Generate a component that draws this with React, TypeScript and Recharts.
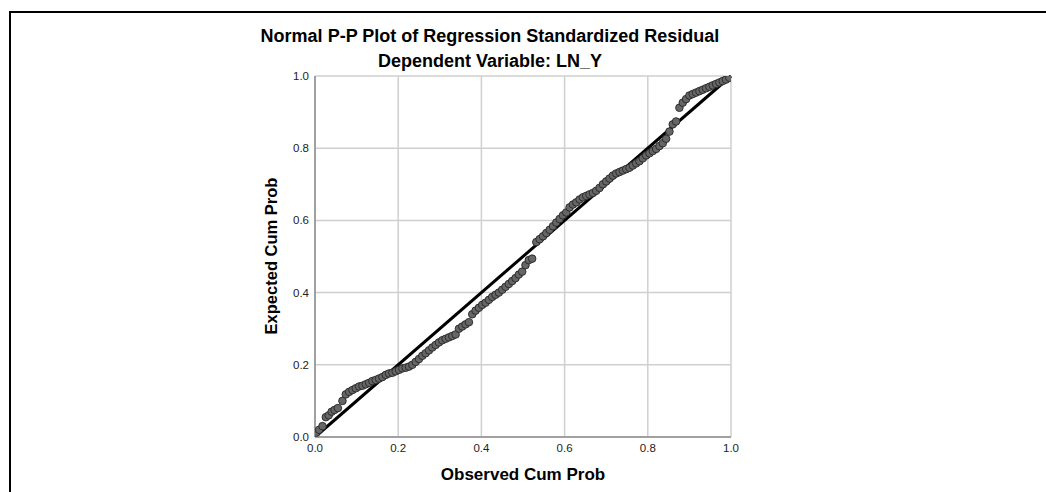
import { ScatterChart, Scatter, XAxis, YAxis, CartesianGrid, ReferenceLine } from 'recharts';

// observed cumulative probability (x) and expected cumulative probability (y)
const observed = [
  0.003, 0.01, 0.018, 0.026, 0.033, 0.04, 0.047, 0.055, 0.066, 0.074, 0.082, 0.09, 0.098, 0.106, 0.114,
  0.122, 0.13, 0.138, 0.146, 0.154, 0.162, 0.17, 0.178, 0.186, 0.194, 0.202, 0.21, 0.218, 0.226, 0.234,
  0.242, 0.25, 0.258, 0.266, 0.274, 0.282, 0.29, 0.298, 0.306, 0.314, 0.322, 0.33, 0.338, 0.346, 0.354,
  0.362, 0.37, 0.378, 0.386, 0.394, 0.402, 0.41, 0.418, 0.426, 0.434, 0.442, 0.45, 0.458, 0.466, 0.474,
  0.482, 0.49, 0.498, 0.506, 0.514, 0.522, 0.532, 0.54, 0.548, 0.556, 0.564, 0.572, 0.58, 0.588, 0.596,
  0.604, 0.612, 0.62, 0.628, 0.636, 0.644, 0.652, 0.66, 0.668, 0.676, 0.684, 0.692, 0.7, 0.708, 0.716,
  0.724, 0.732, 0.74, 0.748, 0.756, 0.764, 0.772, 0.78, 0.788, 0.796, 0.804, 0.812, 0.82, 0.828, 0.836,
  0.844, 0.852, 0.86, 0.868, 0.876, 0.884, 0.892, 0.9, 0.908, 0.916, 0.924, 0.932, 0.94, 0.948, 0.956,
  0.964, 0.972, 0.98, 0.988, 0.996,
];
const expected = [
  0.012, 0.02, 0.03, 0.055, 0.06, 0.07, 0.075, 0.08, 0.1, 0.118, 0.125, 0.13, 0.135, 0.14, 0.142,
  0.146, 0.15, 0.155, 0.158, 0.162, 0.166, 0.172, 0.176, 0.178, 0.182, 0.186, 0.19, 0.192, 0.195, 0.2,
  0.208, 0.216, 0.225, 0.232, 0.24, 0.248, 0.255, 0.262, 0.268, 0.272, 0.276, 0.28, 0.284, 0.3, 0.306,
  0.312, 0.318, 0.34, 0.35, 0.358, 0.366, 0.372, 0.38, 0.388, 0.394, 0.4, 0.408, 0.416, 0.424, 0.432,
  0.44, 0.45, 0.458, 0.476, 0.49, 0.494, 0.54, 0.548, 0.556, 0.565, 0.574, 0.584, 0.594, 0.604, 0.614,
  0.622, 0.636, 0.644, 0.65, 0.658, 0.664, 0.668, 0.672, 0.676, 0.682, 0.69, 0.7, 0.708, 0.716, 0.724,
  0.73, 0.734, 0.738, 0.742, 0.746, 0.752, 0.758, 0.764, 0.772, 0.78, 0.786, 0.792, 0.798, 0.806, 0.814,
  0.826, 0.846, 0.866, 0.874, 0.912, 0.926, 0.936, 0.946, 0.95, 0.954, 0.958, 0.962, 0.966, 0.97, 0.974,
  0.978, 0.982, 0.986, 0.99, 0.995,
];
const ticks = [0, 0.2, 0.4, 0.6, 0.8, 1.0];

const points = observed.map((x, i) => ({ x, y: expected[i] }));

const FONT = '"Liberation Sans", Arial, sans-serif';

const Dot = (props: any) => {
  const { cx, cy } = props;
  return <circle cx={cx} cy={cy} r={3.8} fill="#666" stroke="#262626" strokeWidth={0.9} />;
};

export default function App() {
  return (
    <div style={{ position: 'relative', width: 1046, height: 492, background: '#fff', fontFamily: FONT }}>
      <style>{`body { margin: 0; }`}</style>
      {/* frame around the output */}
      <div
        style={{
          position: 'absolute',
          left: 9,
          top: 11,
          width: 1046,
          height: 492,
          borderTop: '2px solid #000',
          borderLeft: '2px solid #000',
        }}
      />
      <div style={{ position: 'absolute', left: 0, width: 980, top: 26, textAlign: 'center', fontSize: 18, fontWeight: 'bold' }}>
        Normal P-P Plot of Regression Standardized Residual
      </div>
      <div style={{ position: 'absolute', left: 0, width: 980, top: 51, textAlign: 'center', fontSize: 18, fontWeight: 'bold' }}>
        Dependent Variable: LN_Y
      </div>
      <div style={{ position: 'absolute', left: 0, width: 1046, top: 465, textAlign: 'center', fontSize: 17, fontWeight: 'bold' }}>
        Observed Cum Prob
      </div>
      <div
        style={{
          position: 'absolute',
          left: 271,
          top: 256,
          transform: 'translate(-50%, -50%) rotate(-90deg)',
          whiteSpace: 'nowrap',
          fontSize: 16.5,
          fontWeight: 'bold',
        }}
      >
        Expected Cum Prob
      </div>
      <div style={{ position: 'absolute', left: 0, top: 0 }}>
        <ScatterChart width={1046} height={492} margin={{ top: 76, right: 315, bottom: 25, left: 275 }}>
          <CartesianGrid stroke="#cfcfcf" strokeWidth={1.5} vertical horizontal />
          <XAxis
            type="number"
            dataKey="x"
            domain={[0, 1]}
            ticks={ticks}
            tickFormatter={(v: number) => v.toFixed(1)}
            tickLine={false}
            axisLine={{ stroke: '#a0a0a0', strokeWidth: 2 }}
            tick={{ fontSize: 11.5, fill: '#222', fontFamily: FONT }}
            tickMargin={1}
            height={30}
            allowDataOverflow
          />
          <YAxis
            type="number"
            dataKey="y"
            domain={[0, 1]}
            ticks={ticks}
            tickFormatter={(v: number) => v.toFixed(1)}
            tickLine={false}
            axisLine={{ stroke: '#a0a0a0', strokeWidth: 2 }}
            tick={{ fontSize: 11.5, fill: '#222', fontFamily: FONT }}
            tickMargin={0}
            width={40}
            allowDataOverflow
          />
          <Scatter data={points} shape={<Dot />} isAnimationActive={false} />
          <ReferenceLine
            segment={[
              { x: 0, y: 0 },
              { x: 1, y: 1 },
            ]}
            stroke="#000"
            strokeWidth={3}
          />
        </ScatterChart>
      </div>
    </div>
  );
}
